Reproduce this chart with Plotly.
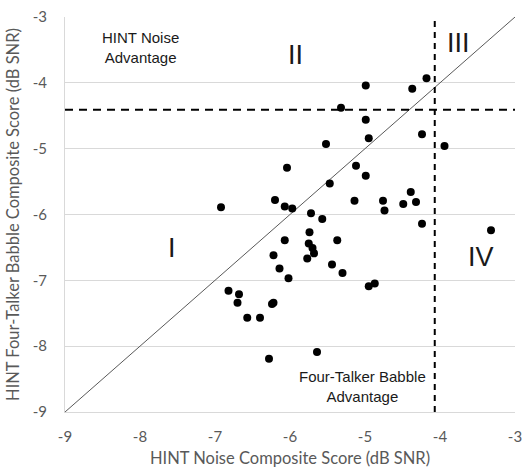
import plotly.graph_objects as go

# HINT Noise composite score (dB SNR)
noise = [-6.92, -4.18, -4.37, -4.99, -5.32, -4.99, -4.95, -4.24, -3.94, -5.52,
         -6.04, -5.12, -4.99, -5.47, -5.14, -4.76, -4.74, -4.49, -4.39, -4.32,
         -6.07, -5.97, -5.72, -5.57, -6.20, -4.24, -3.32, -5.74, -6.07, -5.75,
         -5.70, -5.68, -5.37, -5.77, -5.44, -6.14, -6.02, -5.30, -4.95, -4.87,
         -5.64, -6.22, -6.82, -6.68, -6.70, -6.24, -6.22, -6.57, -6.40, -6.28]
# HINT Four-Talker Babble composite score (dB SNR)
babble = [-5.89, -3.93, -4.09, -4.04, -4.38, -4.56, -4.84, -4.78, -4.96, -4.93,
          -5.29, -5.26, -5.41, -5.53, -5.79, -5.79, -5.94, -5.84, -5.66, -5.81,
          -5.88, -5.91, -5.98, -6.07, -5.78, -6.14, -6.24, -6.27, -6.39, -6.44,
          -6.51, -6.59, -6.39, -6.67, -6.76, -6.82, -6.97, -6.89, -7.09, -7.05,
          -8.09, -6.62, -7.16, -7.21, -7.34, -7.36, -7.34, -7.57, -7.57, -8.19]

axis_range = [-9, -3]
tick_vals = [-9, -8, -7, -6, -5, -4, -3]
tick_text = ["-9", "-8", "-7", "-6", "-5", "-4", "-3"]
noise_cutoff = -4.07
babble_cutoff = -4.41

quadrant_labels = ["I", "II", "III", "IV"]
quadrant_x = [-7.57, -5.93, -3.76, -3.45]
quadrant_y = [-6.51, -3.58, -3.40, -6.64]

region_labels = ["HINT Noise<br>Advantage", "Four-Talker Babble<br>Advantage"]
region_x = [-7.99, -5.04]
region_y = [-3.47, -8.61]

fig = go.Figure()

# identity diagonal
fig.add_trace(go.Scatter(x=axis_range, y=axis_range, mode="lines",
                         line=dict(color="#595959", width=1), hoverinfo="skip",
                         showlegend=False))
# vertical cutoff
fig.add_trace(go.Scatter(x=[noise_cutoff, noise_cutoff], y=axis_range, mode="lines",
                         line=dict(color="black", width=2, dash="6px,5px"),
                         showlegend=False, hoverinfo="skip"))
# horizontal cutoff
fig.add_trace(go.Scatter(x=axis_range, y=[babble_cutoff, babble_cutoff], mode="lines",
                         line=dict(color="black", width=2, dash="8px,6px"),
                         showlegend=False, hoverinfo="skip"))
# data points
fig.add_trace(go.Scatter(x=noise, y=babble, mode="markers",
                         marker=dict(color="black", size=8),
                         showlegend=False))

for t, x, y in zip(quadrant_labels, quadrant_x, quadrant_y):
    fig.add_annotation(x=x, y=y, text=t, showarrow=False,
                       font=dict(family="Liberation Sans", size=27, color="#1a1a1a"))
for t, x, y in zip(region_labels, region_x, region_y):
    fig.add_annotation(x=x, y=y, text=t, showarrow=False,
                       font=dict(family="Liberation Sans", size=15, color="#1a1a1a"))

axis_font = dict(family="Lato", size=15, color="#595959")
title_font = dict(family="Lato", size=16.5, color="#595959")
fig.update_xaxes(range=axis_range, tickvals=tick_vals, ticktext=tick_text,
                 showgrid=False, zeroline=False, automargin=False,
                 showline=True, linecolor="#d9d9d9", linewidth=1,
                 tickfont=axis_font, ticklabelstandoff=11, ticklabeloverflow="allow",
                 title=dict(text="HINT Noise Composite Score (dB SNR)",
                            font=title_font, standoff=8))
fig.update_yaxes(range=axis_range, tickvals=tick_vals, ticktext=tick_text,
                 showgrid=True, gridcolor="#d9d9d9", automargin=False,
                 gridwidth=1, zeroline=False, showline=True, linecolor="#d9d9d9",
                 tickfont=axis_font, ticklabelstandoff=14,
                 title=dict(text="HINT Four-Talker Babble Composite Score (dB SNR)",
                            font=title_font, standoff=8))

fig.update_layout(width=522, height=471, plot_bgcolor="white", paper_bgcolor="white",
                  margin=dict(l=65, r=7, t=17, b=59))

fig.write_html("out.html")
